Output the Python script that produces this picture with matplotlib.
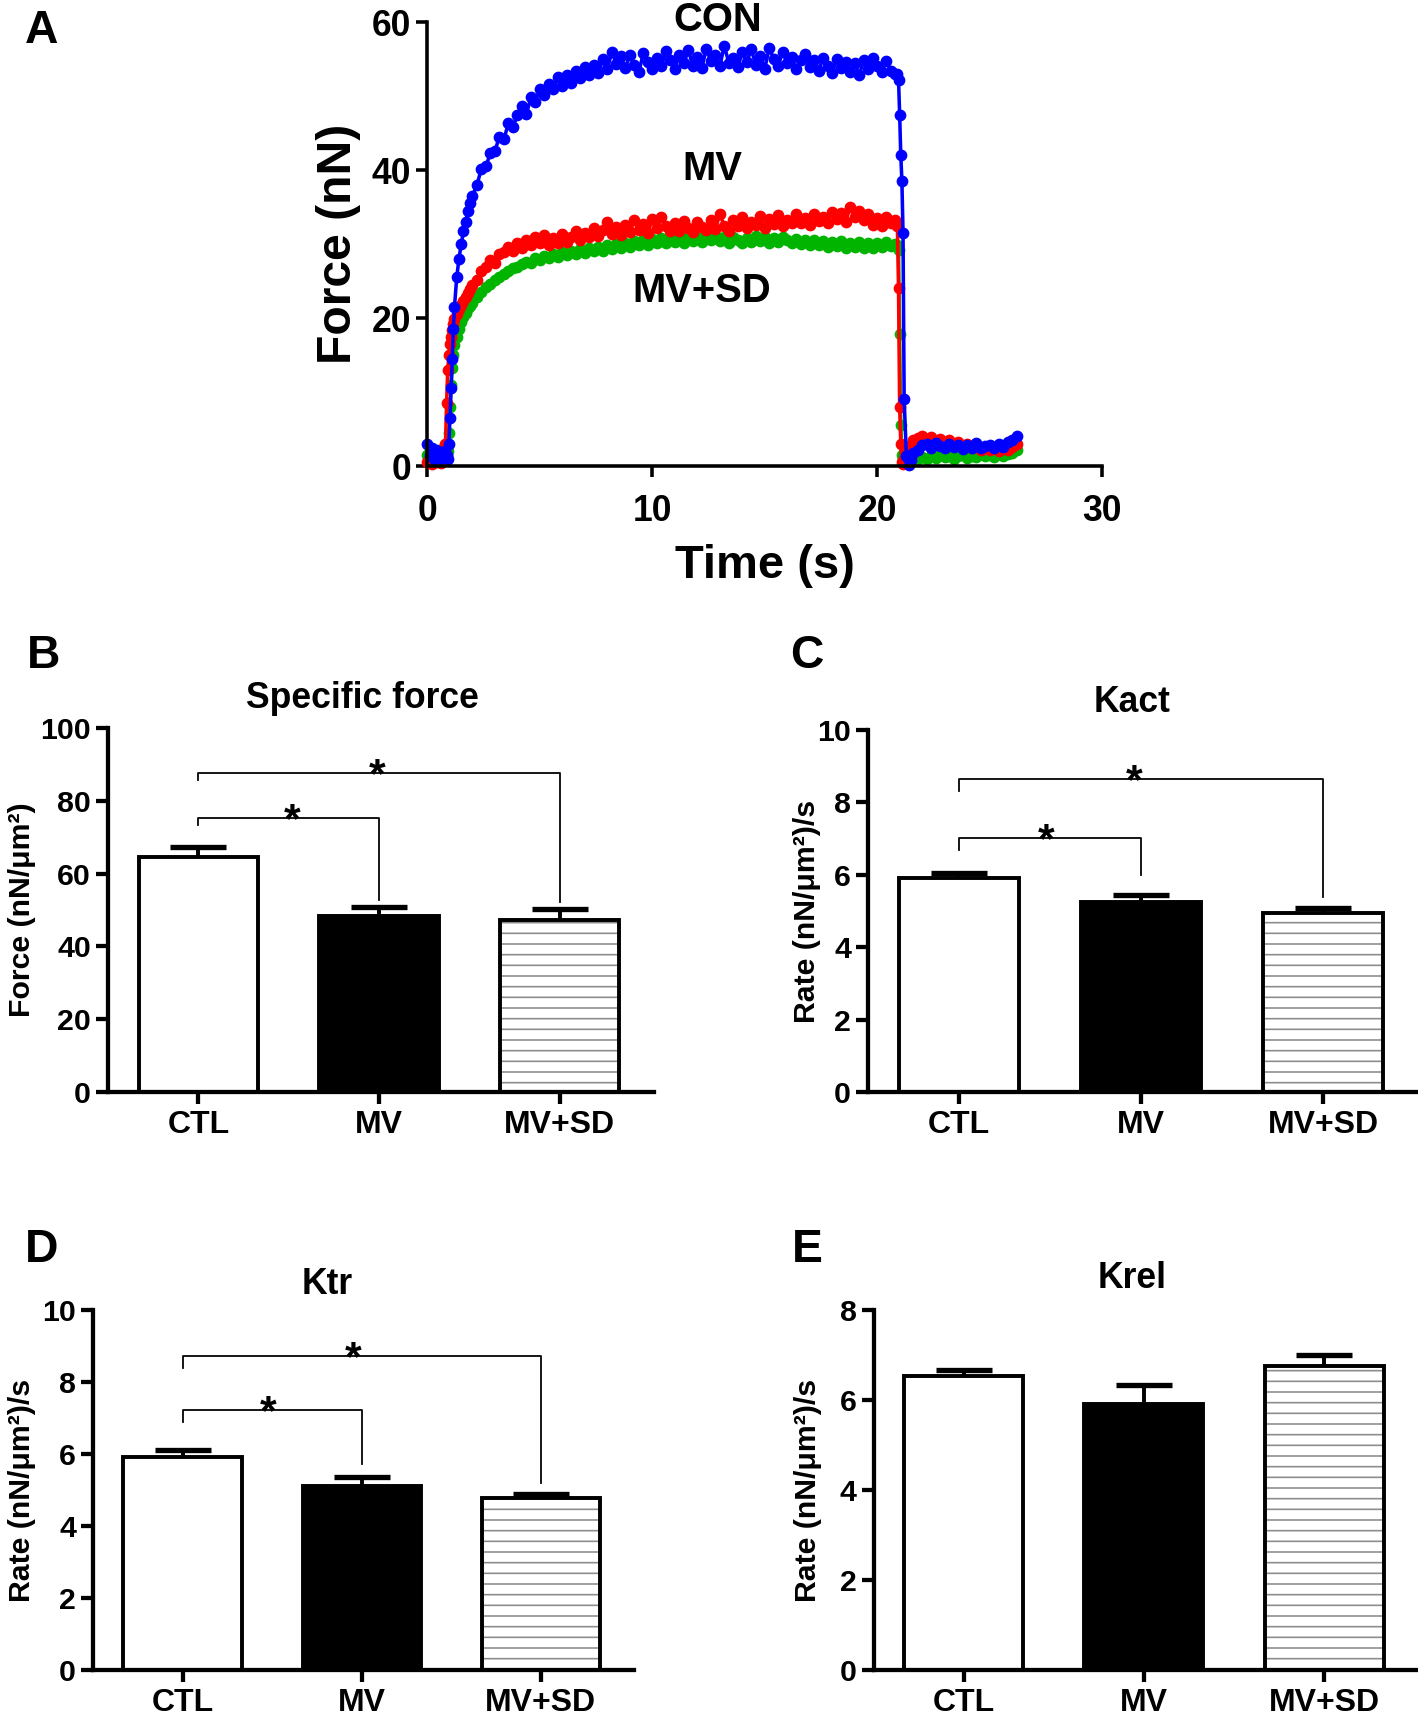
import numpy as np
import matplotlib
matplotlib.use("Agg")
import matplotlib.pyplot as plt
from matplotlib import font_manager as fm

_names = {f.name for f in fm.fontManager.ttflist}
NARROW = "Liberation Sans Narrow" if "Liberation Sans Narrow" in _names else "Liberation Sans"
WIDE = "Liberation Sans"
plt.rcParams["font.family"] = [WIDE, "DejaVu Sans"]
plt.rcParams["font.weight"] = "bold"
plt.rcParams["axes.labelweight"] = "bold"
plt.rcParams["hatch.linewidth"] = 0.9

# ---- panel A: force traces (time in s, force in nN) ----
t = [0.0, 0.1, 0.2, 0.3, 0.4, 0.5, 0.6, 0.7, 0.8,
     0.85, 0.9, 0.95, 1.0, 1.05, 1.1, 1.15, 1.2,
     1.3, 1.4, 1.5, 1.6, 1.7, 1.8, 1.9, 2.0,
     2.2, 2.4, 2.6, 2.8, 3.0, 3.2, 3.4, 3.6, 3.8, 4.0,
     4.2, 4.4, 4.6, 4.8, 5.0, 5.2, 5.4, 5.6, 5.8, 6.0,
     6.2, 6.4, 6.6, 6.8, 7.0, 7.2, 7.4, 7.6, 7.8, 8.0,
     8.2, 8.4, 8.6, 8.8, 9.0, 9.2, 9.4, 9.6, 9.8, 10.0,
     10.2, 10.4, 10.6, 10.8, 11.0, 11.2, 11.4, 11.6, 11.8, 12.0,
     12.2, 12.4, 12.6, 12.8, 13.0, 13.2, 13.4, 13.6, 13.8, 14.0,
     14.2, 14.4, 14.6, 14.8, 15.0, 15.2, 15.4, 15.6, 15.8, 16.0,
     16.2, 16.4, 16.6, 16.8, 17.0, 17.2, 17.4, 17.6, 17.8, 18.0,
     18.2, 18.4, 18.6, 18.8, 19.0, 19.2, 19.4, 19.6, 19.8, 20.0,
     20.2, 20.4, 20.6, 20.8,
     20.9, 20.95, 21.0, 21.05, 21.1, 21.15, 21.2,
     21.3, 21.4, 21.5, 21.6,
     21.8, 22.0, 22.2, 22.4, 22.6, 22.8, 23.0, 23.2, 23.4, 23.6,
     23.8, 24.0, 24.2, 24.4, 24.6, 24.8, 25.0, 25.2, 25.4, 25.6,
     25.8, 26.0, 26.2]

con = [3.0, 1.5, 2.5, 1.0, 2.2, 0.8, 1.9, 1.2, 2.0,
       1.5, 1.0, 3.0, 6.5, 10.5, 14.5, 18.5, 21.5,
       25.5, 28.0, 30.0, 31.7, 33.0, 34.5, 35.5, 36.5,
       38.0, 40.2, 40.5, 42.3, 42.6, 44.5, 44.2, 46.3, 45.8, 47.5,
       48.6, 47.6, 49.8, 49.2, 51.0, 50.1, 51.6, 50.9, 52.6, 51.4,
       52.9, 51.8, 53.4, 52.5, 53.9, 52.8, 54.2, 53.1, 55.0, 53.6,
       56.0, 54.3, 55.4, 53.8, 55.6, 54.2, 53.2, 55.8, 54.6, 53.6,
       55.2, 54.0, 56.1, 54.8, 53.7, 55.5, 54.4, 56.2, 54.1, 55.3,
       53.8, 56.4, 54.7, 55.6, 54.0, 56.8, 54.5, 55.2, 53.9, 55.9,
       54.6, 56.3, 54.2, 55.4, 53.7, 56.5, 55.0, 54.1, 56.0, 54.4,
       55.3, 53.6, 54.8, 55.7, 53.9, 54.9, 53.4, 55.2, 54.0, 53.1,
       55.0, 53.8, 54.6, 53.2, 54.5, 52.8, 54.9, 53.6, 55.1, 54.0,
       53.2, 54.7, 53.4, 53.0,
       53.0, 52.2, 47.5, 42.0, 38.5, 31.5, 9.0,
       1.4, 0.2, 0.8, 1.8,
       2.2, 2.8, 3.0, 2.5, 3.1, 2.7, 2.4, 3.0, 2.6, 2.9,
       2.3, 2.8, 2.5, 3.1, 2.4, 2.7, 2.9, 2.5, 3.0, 2.6,
       3.2, 3.5, 4.0]

mv = [0.5, 1.2, 0.3, 1.0, 0.6, 1.3, 0.4, 1.1, 3.0,
      8.5, 13.0, 15.0, 16.5, 17.5, 18.4, 19.2, 19.8,
      20.5, 21.2, 21.8, 22.3, 22.8, 23.4, 23.9, 24.4,
      25.2, 26.4, 26.9, 27.8, 27.4, 28.6, 28.9, 29.6, 29.1, 30.2,
      29.5, 30.6, 29.8, 30.9, 30.1, 31.2, 29.9, 30.8, 30.2, 31.4,
      30.3, 31.0, 31.8, 30.6, 31.5, 30.9, 32.2, 31.1, 31.9, 33.0,
      31.4, 32.3, 31.2, 32.6, 31.6, 33.2, 31.9, 32.7, 31.5, 33.4,
      32.1, 33.6, 32.4, 31.8, 32.9, 31.7, 33.1, 32.2, 31.6, 33.0,
      32.3, 31.9, 33.2, 32.0, 34.0, 32.5, 31.8, 33.3, 32.4, 33.6,
      32.1, 33.0, 32.6, 33.8, 32.2, 33.4, 32.7, 33.9, 32.5, 33.2,
      32.8, 34.1, 32.9, 33.5, 32.6, 34.0, 33.1, 33.7, 32.9, 34.3,
      33.4, 34.2, 33.0, 35.0, 33.6, 34.4, 33.2, 34.1, 32.6, 33.5,
      32.4, 33.6, 32.8, 33.2,
      32.5, 24.0, 8.0, 3.0, 0.5, 0.3, 1.0,
      1.5, 2.0, 2.8, 3.5,
      3.8, 4.0, 3.6, 3.9, 3.4, 3.7, 3.1, 3.5, 2.8, 3.2,
      2.6, 3.0, 2.4, 2.8, 2.2, 2.6, 2.1, 2.5, 2.0, 2.4,
      2.2, 2.6, 3.0]

mv_sd = [1.5, 2.0, 1.2, 1.8, 1.4, 2.2, 1.6, 1.3, 1.8,
         1.5, 2.0, 4.5, 8.0, 11.0, 13.3, 15.0, 16.3,
         17.4, 18.5, 19.4, 20.1, 20.7, 21.3, 21.6, 22.0,
         22.9, 23.5, 24.2, 24.6, 25.2, 25.5, 26.0, 26.3, 26.8, 26.9,
         27.3, 27.6, 27.5, 28.1, 27.8, 28.4, 28.1, 28.7, 28.3, 28.9,
         28.5, 29.1, 28.7, 29.3, 28.8, 29.4, 29.0, 29.6, 29.1, 29.8,
         29.3, 30.0, 29.5, 30.2, 29.6, 30.4, 29.8, 30.5, 29.9, 30.7,
         30.1, 30.8, 30.2, 31.0, 30.3, 30.9, 30.2, 31.1, 30.4, 30.9,
         30.3, 31.0, 30.5, 31.2, 30.4, 30.9, 30.2, 31.0, 30.6, 30.1,
         30.8, 30.3, 31.1, 30.4, 30.9, 30.2, 30.8, 30.3, 31.0, 30.5,
         30.1, 30.7, 30.0, 30.6, 29.9, 30.5, 29.8, 30.4, 29.6, 30.3,
         29.7, 30.4, 29.5, 30.2, 29.6, 30.3, 29.4, 30.1, 29.5, 30.2,
         29.6, 30.3, 29.7, 30.0,
         29.8, 29.2, 17.9, 5.5, 1.5, 0.9, 0.7,
         0.8, 0.9, 1.1, 1.0,
         0.9, 1.2, 1.0, 1.4, 1.1, 1.5, 1.2, 1.4, 1.0, 1.3,
         1.5, 1.1, 1.4, 1.2, 1.6, 1.3, 1.5, 1.2, 1.7, 1.4,
         1.6, 1.8, 2.2]

trace_colors = ["#00b400", "#ff0000", "#0000ff"]

# ---- panels B-E: bar charts ----
groups = ["CTL", "MV", "MV+SD"]

force_mean = [64.5, 48.3, 47.2]
force_sem = [2.8, 2.6, 3.0]

kact_mean = [5.92, 5.25, 4.94]
kact_sem = [0.13, 0.20, 0.14]

ktr_mean = [5.92, 5.10, 4.77]
ktr_sem = [0.18, 0.25, 0.11]

krel_mean = [6.54, 5.92, 6.76]
krel_sem = [0.13, 0.41, 0.24]

# significance brackets: (from, to, bar height, left leg end, right leg end, star x)
force_sig = [(0, 1, 75.3, 73.3, 52.7, 0.52), (0, 2, 87.7, 85.7, 52.1, 0.99)]
kact_sig = [(0, 1, 7.03, 6.69, 5.99, 0.48), (0, 2, 8.65, 8.31, 5.39, 0.96)]
ktr_sig = [(0, 1, 7.22, 6.90, 5.71, 0.48), (0, 2, 8.73, 8.38, 5.19, 0.95)]

W, H = 1418, 1715
DPI = 128
fig = plt.figure(figsize=(W / DPI, H / DPI), dpi=DPI)


def add_ax(left, right, top, bottom):
    return fig.add_axes([left / W, 1 - bottom / H, (right - left) / W, (bottom - top) / H])


def style_spines(ax, lw):
    for s in ["top", "right"]:
        ax.spines[s].set_visible(False)
    for s in ["left", "bottom"]:
        ax.spines[s].set_linewidth(lw)


# panel A
axA = add_ax(427.5, 1102, 22, 466)
for y, c in zip([mv_sd, mv, con], trace_colors):
    axA.plot(t, y, "-", color=c, lw=2.0, marker="o", ms=5.6, mfc=c, mec=c, clip_on=False)
axA.set_xlim(0, 30)
axA.set_ylim(0, 60)
axA.set_xticks([0, 10, 20, 30])
axA.set_yticks([0, 20, 40, 60])
style_spines(axA, 2.0)
axA.tick_params(width=2.0, length=6, labelsize=20, pad=3)
axA.tick_params(axis="x", pad=10)
for lb in axA.get_xticklabels() + axA.get_yticklabels():
    lb.set_fontfamily(NARROW)
axA.set_xlabel("Time (s)", fontsize=26.5, labelpad=8)
axA.set_ylabel("Force (nN)", fontsize=27, labelpad=6)
for name, x, y in [("CON", 12.9, 60.3), ("MV", 12.65, 40.1), ("MV+SD", 12.2, 23.6)]:
    axA.text(x, y, name, ha="center", va="center", fontsize=22.5, clip_on=False)


def bar_panel(box, means, sems, ymax, ystep, title, title_dx, title_dy, ylabel, ylab_px, sig):
    left, right, top, bottom = box
    ax = add_ax(left, right, top, bottom)
    x = np.arange(len(groups))
    bw = 0.66
    ax.bar(x[0], means[0], width=bw, color="white", edgecolor="black", lw=2.2, zorder=2)
    ax.bar(x[1], means[1], width=bw, color="black", edgecolor="black", lw=2.2, zorder=2)
    ax.bar(x[2], means[2], width=bw, color="white", edgecolor="#8a8a8a", hatch="--", lw=0, zorder=2)
    ax.bar(x[2], means[2], width=bw, fill=False, edgecolor="black", lw=2.2, zorder=3)
    eb = ax.errorbar(x, means, yerr=[np.zeros(len(x)), sems], fmt="none", ecolor="black",
                     elinewidth=2.2, capsize=16, capthick=3.0, zorder=1)
    for cl in eb[1]:
        if np.allclose(cl.get_ydata(), means):
            cl.set_visible(False)
    for i, j, yb, l0, l1, sx in sig:
        ax.plot([x[i], x[i], x[j], x[j]], [l0, yb, yb, l1], color="black", lw=1.0, zorder=4)
        ax.annotate("*", xy=(sx, yb), xytext=(0, -8), textcoords="offset points",
                    ha="center", va="baseline", fontsize=24)
    ax.set_xlim(-0.5, 2.52)
    ax.set_ylim(0, ymax)
    ax.set_yticks(np.arange(0, ymax + ystep / 2, ystep))
    ax.set_xticks(x)
    ax.set_xticklabels(groups)
    style_spines(ax, 2.4)
    ax.tick_params(width=2.4, length=7, labelsize=17, pad=2.5)
    ax.tick_params(axis="x", labelsize=18, pad=3)
    for lb in ax.get_xticklabels() + ax.get_yticklabels():
        lb.set_fontfamily(NARROW)
    ax.set_ylabel(ylabel, fontsize=17, va="center")
    ax.yaxis.set_label_coords(-ylab_px / (right - left), 0.5)
    ax.text(title_dx, 1 + title_dy / (bottom - top), title, transform=ax.transAxes,
            ha="center", va="center", fontsize=20, fontfamily=NARROW)
    return ax


bar_panel((108, 653.6, 728, 1092), force_mean, force_sem, 100, 20, "Specific force", 0.466, 30,
          "Force (nN/μm²)", 86, force_sig)
bar_panel((868, 1418, 730, 1092), kact_mean, kact_sem, 10, 2, "Kact", 0.48, 27,
          "Rate (nN/μm²)/s", 61, kact_sig)
bar_panel((93, 634, 1310, 1670), ktr_mean, ktr_sem, 10, 2, "Ktr", 0.433, 25,
          "Rate (nN/μm²)/s", 71, ktr_sig)
bar_panel((873.5, 1418, 1310, 1670), krel_mean, krel_sem, 8, 2, "Krel", 0.475, 32,
          "Rate (nN/μm²)/s", 66, [])

for letter, x, y in [("A", 41.6, 30.6), ("B", 43.8, 656), ("C", 807, 656),
                     ("D", 41.6, 1250), ("E", 807, 1250)]:
    fig.text(x / W, 1 - y / H, letter, ha="center", va="center", fontsize=26, fontfamily=WIDE)

fig.savefig("out.png", dpi=DPI)
